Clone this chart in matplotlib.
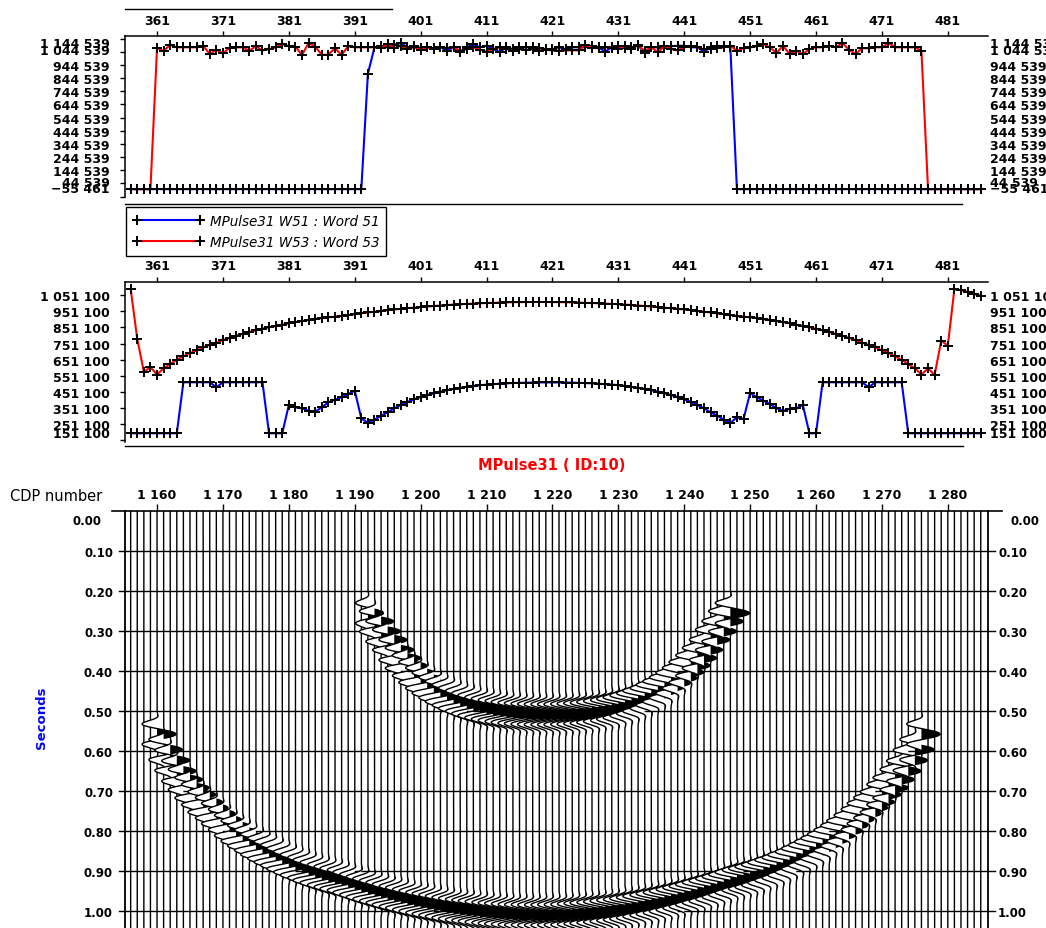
import matplotlib.pyplot as plt
import numpy as np
from matplotlib.lines import Line2D
from matplotlib import transforms

plt.rcParams["font.family"] = ["DejaVu Sans"]

# header index of each trace (357..486) and its CDP number
hdr = np.arange(357, 487)
cdp = hdr + 799

# top panel: MPulse31 W51 / W53 (event amplitude flags)
top_w51 = [0, 0, 0, 0,
           0, 0, 0, 0, 0, 0, 0, 0, 0, 0,
           0, 0, 0, 0, 0, 0, 0, 0, 0, 0,
           0, 0, 0, 0, 0, 0, 0, 0, 0, 0,
           0, 0, 878000, 1078000, 1090000, 1078000, 1098000, 1111000, 1078000, 1090000,
           1073000, 1078000, 1065000, 1078000, 1052000, 1078000, 1045000, 1078000, 1103000, 1078000,
           1090000, 1065000, 1042000, 1078000, 1065000, 1078000, 1078000, 1078000, 1073000, 1065000,
           1065000, 1078000, 1065000, 1078000, 1078000, 1078000, 1086000, 1078000, 1045000, 1078000,
           1086000, 1071000, 1065000, 1098000, 1032000, 1078000, 1078000, 1071000, 1086000, 1090000,
           1090000, 1078000, 1078000, 1045000, 1078000, 1090000, 1086000, 1078000, 0, 0,
           0, 0, 0, 0, 0, 0, 0, 0, 0, 0,
           0, 0, 0, 0, 0, 0, 0, 0, 0, 0,
           0, 0, 0, 0, 0, 0, 0, 0, 0, 0,
           0, 0, 0, 0, 0, 0]
top_w53 = [0, 0, 0, 0,
           1071000, 1052000, 1096000, 1078000, 1078000, 1078000, 1078000, 1090000, 1027000, 1060000,
           1032000, 1075000, 1078000, 1078000, 1052000, 1086000, 1055000, 1065000, 1078000, 1103000,
           1086000, 1083000, 1020000, 1111000, 1083000, 1022000, 1022000, 1073000, 1020000, 1086000,
           1078000, 1078000, 1078000, 1078000, 1073000, 1103000, 1073000, 1090000, 1065000, 1078000,
           1060000, 1078000, 1071000, 1078000, 1073000, 1078000, 1052000, 1065000, 1078000, 1060000,
           1045000, 1065000, 1078000, 1065000, 1052000, 1065000, 1055000, 1065000, 1052000, 1060000,
           1055000, 1052000, 1055000, 1055000, 1055000, 1098000, 1073000, 1071000, 1078000, 1073000,
           1065000, 1086000, 1078000, 1090000, 1052000, 1078000, 1042000, 1086000, 1065000, 1055000,
           1078000, 1090000, 1078000, 1065000, 1065000, 1073000, 1078000, 1090000, 1052000, 1071000,
           1078000, 1086000, 1103000, 1078000, 1035000, 1090000, 1027000, 1052000, 1027000, 1065000,
           1078000, 1078000, 1090000, 1078000, 1111000, 1060000, 1027000, 1071000, 1071000, 1078000,
           1078000, 1111000, 1078000, 1078000, 1078000, 1078000, 1052000, 0, 0, 0,
           0, 0, 0, 0, 0, 0]

# middle panel: event times (microseconds)
mid_w51 = [191000, 191000, 191000, 191000,
           191000, 191000, 191000, 191000, 509200, 509200, 509200, 509200, 509200, 478000,
           509200, 509200, 509200, 509200, 509200, 509200, 509200, 191000, 191000, 191000,
           367600, 353200, 347000, 332000, 325800, 353200, 384400, 400600, 415600, 436200,
           456800, 284600, 255300, 275900, 300800, 322000, 347000, 367600, 386300, 403100,
           417500, 429900, 441200, 451100, 459900, 468000, 474900, 481100, 486100, 491100,
           494800, 497900, 500400, 502900, 504800, 506000, 507300, 507900, 508500, 508500,
           508500, 508500, 507900, 507300, 506000, 504800, 502900, 500400, 497900, 494800,
           491100, 486100, 481100, 474900, 468000, 459900, 451100, 441200, 429900, 417500,
           403100, 386300, 367600, 347000, 322000, 300800, 275900, 255300, 290800, 280200,
           442400, 415600, 394400, 373800, 347000, 332000, 342600, 347000, 367600, 191000,
           191000, 509200, 509200, 509200, 509200, 509200, 509200, 509200, 478000, 509200,
           509200, 509200, 509200, 509200, 191000, 191000, 191000, 191000, 191000, 191000,
           191000, 191000, 191000, 191000, 191000, 191000]
mid_w53 = [1091200, 779300, 575300, 602700,
           557800, 596500, 623300, 650100, 671300, 691900, 708800, 727500, 741800, 756200,
           771200, 786100, 799900, 811700, 822900, 833500, 843500, 852300, 860400, 869100,
           877200, 884700, 891600, 897800, 904000, 909600, 914600, 919000, 922700, 928400,
           934000, 939600, 944600, 949600, 953900, 958900, 963300, 967000, 971400, 975100,
           978900, 982000, 985100, 988200, 991400, 993900, 996300, 998200, 1000100, 1002000,
           1003800, 1005100, 1006300, 1007600, 1008800, 1009400, 1009400, 1010100, 1010100, 1010100,
           1009400, 1009400, 1008800, 1007600, 1006300, 1005100, 1003800, 1002000, 1000100, 998200,
           996300, 993900, 991400, 988200, 985100, 982000, 978900, 975100, 971400, 967000,
           963300, 958900, 953900, 949600, 944600, 939600, 934000, 928400, 922700, 919000,
           914600, 909600, 904000, 897800, 891600, 884700, 877200, 869100, 860400, 852300,
           843500, 833500, 822900, 811700, 799900, 786100, 771200, 756200, 741800, 727500,
           708800, 691900, 671300, 650100, 623300, 596500, 557800, 596500, 554700, 768700,
           737500, 1091200, 1083100, 1072500, 1060000, 1049400]

W, H = 1046, 929
fig = plt.figure(figsize=(W / 100, H / 100), dpi=100)


def rect(x0, y0, x1, y1):
    return [x0 / W, 1 - y1 / H, (x1 - x0) / W, (y1 - y0) / H]


def fmt(v):
    s = f"{abs(int(round(v))):,}".replace(",", " ")
    return ("\u2212" if v < 0 else "") + s


def ylabels(ax, ticks, shifts):
    base = transforms.blended_transform_factory(ax.transAxes, ax.transData)
    for k, v in enumerate(ticks):
        tr = transforms.offset_copy(base, fig=fig, y=shifts.get(k, 0), units="dots")
        ax.text(-0.0174, v, fmt(v), transform=tr, ha="right", va="center_baseline",
                fontsize=9, fontweight="bold", clip_on=False)
        ax.text(1.0023, v, fmt(v), transform=tr, ha="left", va="center_baseline",
                fontsize=9, fontweight="bold", clip_on=False)


def header_panel(ax, y1, y2):
    ax.plot(hdr, y1, color="blue", lw=1.5, marker="+", ms=7, mec="k", mew=1.4, clip_on=False)
    ax.plot(hdr, y2, color="red", lw=1.5, marker="+", ms=7, mec="k", mew=1.4, clip_on=False)
    ax.set_xlim(356.14, 487.1)
    ax.xaxis.tick_top()
    ax.set_xticks(np.arange(361, 482, 10))
    ax.set_xticklabels([str(v) for v in range(361, 482, 10)], fontweight="bold", fontsize=9)
    ax.tick_params(axis="x", length=3.6, width=1, pad=3.2)
    ax.tick_params(axis="y", length=3.6, width=1, labelleft=False)
    for s in ("right", "bottom"):
        ax.spines[s].set_visible(False)
    for s in ("left", "top"):
        ax.spines[s].set_linewidth(1.1)


# top panel
ax1 = fig.add_axes(rect(125, 37, 988, 197.5))
header_panel(ax1, top_w51, top_w53)
ax1.set_ylim(-55461, 1164200)
t1 = np.arange(-55461, 1144540, 100000)
ax1.set_yticks(t1)
ylabels(ax1, t1, {0: 9, 1: 2, 11: 2.4, 12: -3.4})

# middle panel
ax2 = fig.add_axes(rect(125, 282.7, 988, 443))
header_panel(ax2, mid_w51, mid_w53)
ax2.set_ylim(136750, 1136700)
t2 = np.arange(151100, 1051101, 100000)
ax2.set_yticks(t2)
ylabels(ax2, t2, {0: 8})

for x0, x1, y in ((125, 392, 10), (125, 962, 205), (125, 963, 447)):
    fig.add_artist(Line2D([x0 / W, x1 / W], [1 - y / H, 1 - y / H], color="k", lw=1))

leg_handles = [Line2D([], [], color="blue", lw=1.5, marker="+", ms=7, mec="k", mew=1.4),
               Line2D([], [], color="red", lw=1.5, marker="+", ms=7, mec="k", mew=1.4)]
leg = fig.legend(leg_handles, ["MPulse31 W51 : Word 51", "MPulse31 W53 : Word 53"],
                 loc="upper left", bbox_to_anchor=(126 / W, 1 - 208 / H), numpoints=2,
                 handlelength=5.3, handletextpad=0.4, borderpad=0.5, labelspacing=0.55,
                 borderaxespad=0, fancybox=False, framealpha=1, edgecolor="k",
                 prop={"style": "italic", "size": 9.75})
leg.get_frame().set_linewidth(1.0)

fig.text(552 / W, 1 - 466 / H, "MPulse31 ( ID:10)", color="red", fontweight="bold",
         fontsize=10.5, ha="center", va="center")
fig.text(10 / W, 1 - 497 / H, "CDP number", fontsize=10.5, ha="left", va="center")
fig.text(42 / W, 1 - 718 / H, "Seconds", color="blue", fontweight="bold", fontsize=9.5,
         rotation=90, ha="center", va="center")

# seismic section
ax3 = fig.add_axes(rect(125, 512, 988, 929))
ax3.set_xlim(1155.14, 1286.1)
ax3.set_ylim(1.0425, 0)
ax3.xaxis.tick_top()
ax3.set_xticks(np.arange(1160, 1281, 10))
ax3.set_xticklabels([fmt(v) for v in range(1160, 1281, 10)], fontweight="bold", fontsize=9)
ax3.tick_params(axis="x", length=5, width=1, pad=2.4)
ax3.tick_params(axis="y", left=False, labelleft=False)
ax3.spines["top"].set_visible(False)
ax3.spines["bottom"].set_visible(False)
ax3.spines["left"].set_linewidth(1.3)
ax3.spines["right"].set_linewidth(1.3)

blend = transforms.blended_transform_factory(ax3.transAxes, ax3.transData)
seconds = np.round(np.arange(0, 1.01, 0.1), 2)
for s in seconds:
    if s == 0:
        ax3.plot([-0.0151, 1.0162], [0, 0], color="k", lw=1.2, transform=blend, clip_on=False, zorder=5)
        ax3.text(-0.0267, 0.02, "0.00", transform=blend, ha="right", va="center_baseline",
                 fontsize=8.5, fontweight="bold")
        ax3.text(1.0255, 0.02, "0.00", transform=blend, ha="left", va="center_baseline",
                 fontsize=8.5, fontweight="bold")
    else:
        ax3.plot([-0.007, 1.0081], [s, s], color="k", lw=1.0, transform=blend, clip_on=False, zorder=1)
        ax3.text(-0.0139, s, f"{s:.2f}", transform=blend, ha="right", va="center_baseline",
                 fontsize=8.5, fontweight="bold")
        ax3.text(1.0116, s, f"{s:.2f}", transform=blend, ha="left", va="center_baseline",
                 fontsize=8.5, fontweight="bold")

t = np.linspace(0, 1.0425, 2500)
amp_ref = 1078000.0
gain = 2.9


def wavelet(tau):
    return np.cos(2 * np.pi * 18 * tau) * np.exp(-(tau / 0.038) ** 4)


# traces painted left to right: each one hides what lies under its lobes
for j, c in enumerate(cdp):
    s = (top_w51[j] / amp_ref * wavelet(t - mid_w51[j] / 1e6)
         + top_w53[j] / amp_ref * wavelet(t - mid_w53[j] / 1e6))
    x = c + gain * s
    z = 2 + j * 0.01
    if np.abs(s).max() > 0.01:
        ax3.fill_betweenx(t, c, x, where=s < 0, color="white", lw=0, zorder=z)
        ax3.fill_betweenx(t, c, x, where=s > 0, color="k", lw=0, zorder=z)
    ax3.plot(x, t, color="k", lw=1.0, zorder=z + 0.005)

fig.savefig("out.png", dpi=100)
